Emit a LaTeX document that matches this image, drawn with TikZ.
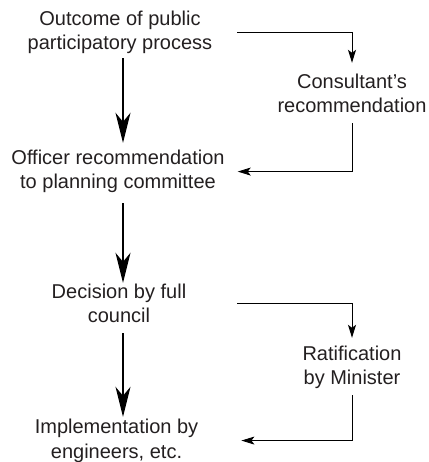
\documentclass[tikz,border=0pt]{standalone}
\usepackage{fontspec}
\setmainfont{Liberation Sans}
\usetikzlibrary{arrows.meta}
\definecolor{txt}{HTML}{231F20}
\tikzset{
  lbl/.style={font=\fontsize{20}{24.5}\selectfont, align=center, inner sep=0pt, anchor=base, text=txt},
  mainarrow/.style={line width=2pt, -{Stealth[length=30pt,width=15pt,inset=9pt]}},
  sidearrow/.style={line width=0.9pt, -{Stealth[length=13pt,width=8pt,inset=3pt]}},
}
\begin{document}
\begin{tikzpicture}[x=1pt,y=1pt]
\useasboundingbox (0,0) rectangle (428,462);

% main column (positions give the baseline of each label's last line)
\node[lbl] (out) at (120,412) {Outcome of public\\participatory process};
\node[lbl] (off) at (118,273) {Officer recommendation\\to planning committee};
\node[lbl] (dec) at (119,139) {Decision by full\\council};
\node[lbl] (imp) at (116.5,4) {Implementation by\\engineers, etc.};

% side column
\node[lbl] (cons) at (352,349) {Consultant's\\recommendation};
\node[lbl] (rat) at (352,77) {Ratification\\by Minister};

\coordinate (spine) at (123,0);

% main flow
\draw[mainarrow, shorten <=4pt, shorten >=7pt] (out.south -| spine) -- (off.north -| spine);
\draw[mainarrow, shorten <=10pt, shorten >=1pt] (off.south -| spine) -- (dec.north -| spine);
\draw[mainarrow, shorten <=10pt, shorten >=2pt] (dec.south -| spine) -- (imp.north -| spine);

% side loops
\draw[sidearrow, shorten <=25pt, shorten >=11pt] (out.east) -| (cons.north);
\draw[sidearrow, shorten <=10pt, shorten >=13pt] (cons.south) |- (off.east);
\draw[sidearrow, shorten <=51pt, shorten >=8pt] (dec.east) -| (rat.north);
\draw[sidearrow, shorten <=6pt, shorten >=43pt] (rat.south) |- (imp.east);
\end{tikzpicture}
\end{document}
